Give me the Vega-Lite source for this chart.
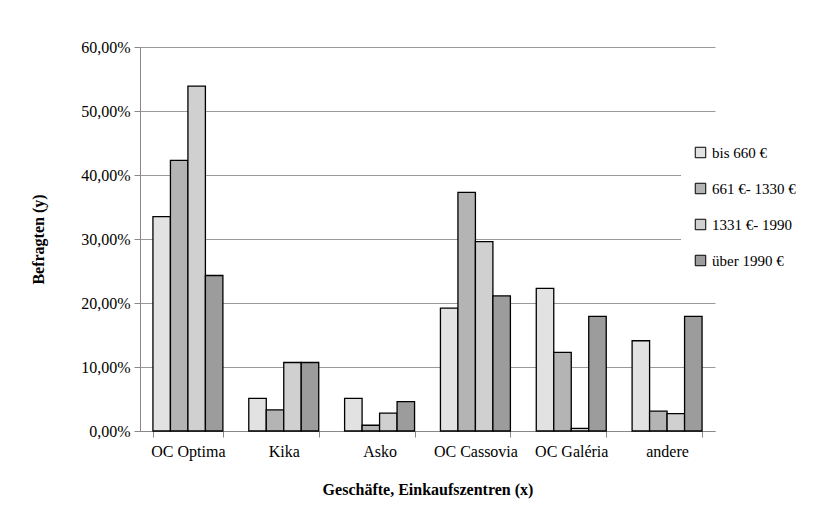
{
  "$schema": "https://vega.github.io/schema/vega-lite/v6.json",
  "width": 575,
  "height": 384,
  "autosize": {"type": "none"},
  "padding": {"left": 140, "top": 47, "right": 115, "bottom": 79},
  "background": "white",
  "config": {
    "view": {"stroke": null},
    "font": "Liberation Serif",
    "locale": {"number": {"decimal": ",", "thousands": ".", "grouping": [3], "currency": ["", " €"]}}
  },
  "data": {
    "values": [
      {"shop": "OC Optima", "group": "bis 660 €", "value": 0.335},
      {"shop": "OC Optima", "group": "661 €- 1330 €", "value": 0.423},
      {"shop": "OC Optima", "group": "1331 €- 1990", "value": 0.539},
      {"shop": "OC Optima", "group": "über 1990 €", "value": 0.243},
      {"shop": "Kika", "group": "bis 660 €", "value": 0.051},
      {"shop": "Kika", "group": "661 €- 1330 €", "value": 0.033},
      {"shop": "Kika", "group": "1331 €- 1990", "value": 0.107},
      {"shop": "Kika", "group": "über 1990 €", "value": 0.107},
      {"shop": "Asko", "group": "bis 660 €", "value": 0.051},
      {"shop": "Asko", "group": "661 €- 1330 €", "value": 0.009},
      {"shop": "Asko", "group": "1331 €- 1990", "value": 0.028},
      {"shop": "Asko", "group": "über 1990 €", "value": 0.046},
      {"shop": "OC Cassovia", "group": "bis 660 €", "value": 0.192},
      {"shop": "OC Cassovia", "group": "661 €- 1330 €", "value": 0.373},
      {"shop": "OC Cassovia", "group": "1331 €- 1990", "value": 0.296},
      {"shop": "OC Cassovia", "group": "über 1990 €", "value": 0.211},
      {"shop": "OC Galéria", "group": "bis 660 €", "value": 0.223},
      {"shop": "OC Galéria", "group": "661 €- 1330 €", "value": 0.123},
      {"shop": "OC Galéria", "group": "1331 €- 1990", "value": 0.004},
      {"shop": "OC Galéria", "group": "über 1990 €", "value": 0.179},
      {"shop": "andere", "group": "bis 660 €", "value": 0.141},
      {"shop": "andere", "group": "661 €- 1330 €", "value": 0.031},
      {"shop": "andere", "group": "1331 €- 1990", "value": 0.027},
      {"shop": "andere", "group": "über 1990 €", "value": 0.179}
    ]
  },
  "mark": {"type": "bar", "stroke": "black", "strokeWidth": 1.3},
  "encoding": {
    "x": {
      "field": "shop",
      "type": "nominal",
      "sort": ["OC Optima", "Kika", "Asko", "OC Cassovia", "OC Galéria", "andere"],
      "scale": {"paddingInner": 0.27, "paddingOuter": 0.135},
      "axis": {
        "title": "Geschäfte, Einkaufszentren (x)",
        "titleFont": "Liberation Serif",
        "titleFontSize": 16,
        "titleFontWeight": "bold",
        "titleColor": "black",
        "titlePadding": 22,
        "labelAngle": 0,
        "labelFont": "Liberation Serif",
        "labelFontSize": 16,
        "labelColor": "black",
        "labelPadding": 6,
        "tickBand": "extent",
        "tickSize": 6,
        "tickColor": "#888888",
        "domainColor": "#888888",
        "grid": false
      }
    },
    "xOffset": {
      "field": "group",
      "type": "nominal",
      "sort": ["bis 660 €", "661 €- 1330 €", "1331 €- 1990", "über 1990 €"],
      "scale": {"paddingInner": 0, "paddingOuter": 0}
    },
    "y": {
      "field": "value",
      "type": "quantitative",
      "scale": {"domain": [0, 0.6], "nice": false},
      "axis": {
        "title": "Befragten (y)",
        "titleFont": "Liberation Serif",
        "titleFontSize": 16,
        "titleFontWeight": "bold",
        "titleColor": "black",
        "titlePadding": 34,
        "format": ".2%",
        "values": [0, 0.1, 0.2, 0.3, 0.4, 0.5, 0.6],
        "labelFont": "Liberation Serif",
        "labelFontSize": 16,
        "labelColor": "black",
        "labelPadding": 4,
        "tickSize": 6,
        "tickColor": "#888888",
        "domainColor": "#888888",
        "gridColor": "#999999",
        "gridWidth": 1
      }
    },
    "color": {
      "field": "group",
      "type": "nominal",
      "sort": ["bis 660 €", "661 €- 1330 €", "1331 €- 1990", "über 1990 €"],
      "scale": {
        "domain": ["bis 660 €", "661 €- 1330 €", "1331 €- 1990", "über 1990 €"],
        "range": ["#e2e2e2", "#b4b4b4", "#d0d0d0", "#9c9c9c"]
      },
      "legend": {
        "title": null,
        "orient": "none",
        "legendX": 541,
        "legendY": 86,
        "padding": 12,
        "fillColor": "white",
        "symbolType": "square",
        "symbolSize": 110,
        "symbolStrokeColor": "black",
        "symbolStrokeWidth": 1,
        "labelFont": "Liberation Serif",
        "labelFontSize": 15,
        "labelColor": "black",
        "labelOffset": 4,
        "rowPadding": 20
      }
    }
  }
}
